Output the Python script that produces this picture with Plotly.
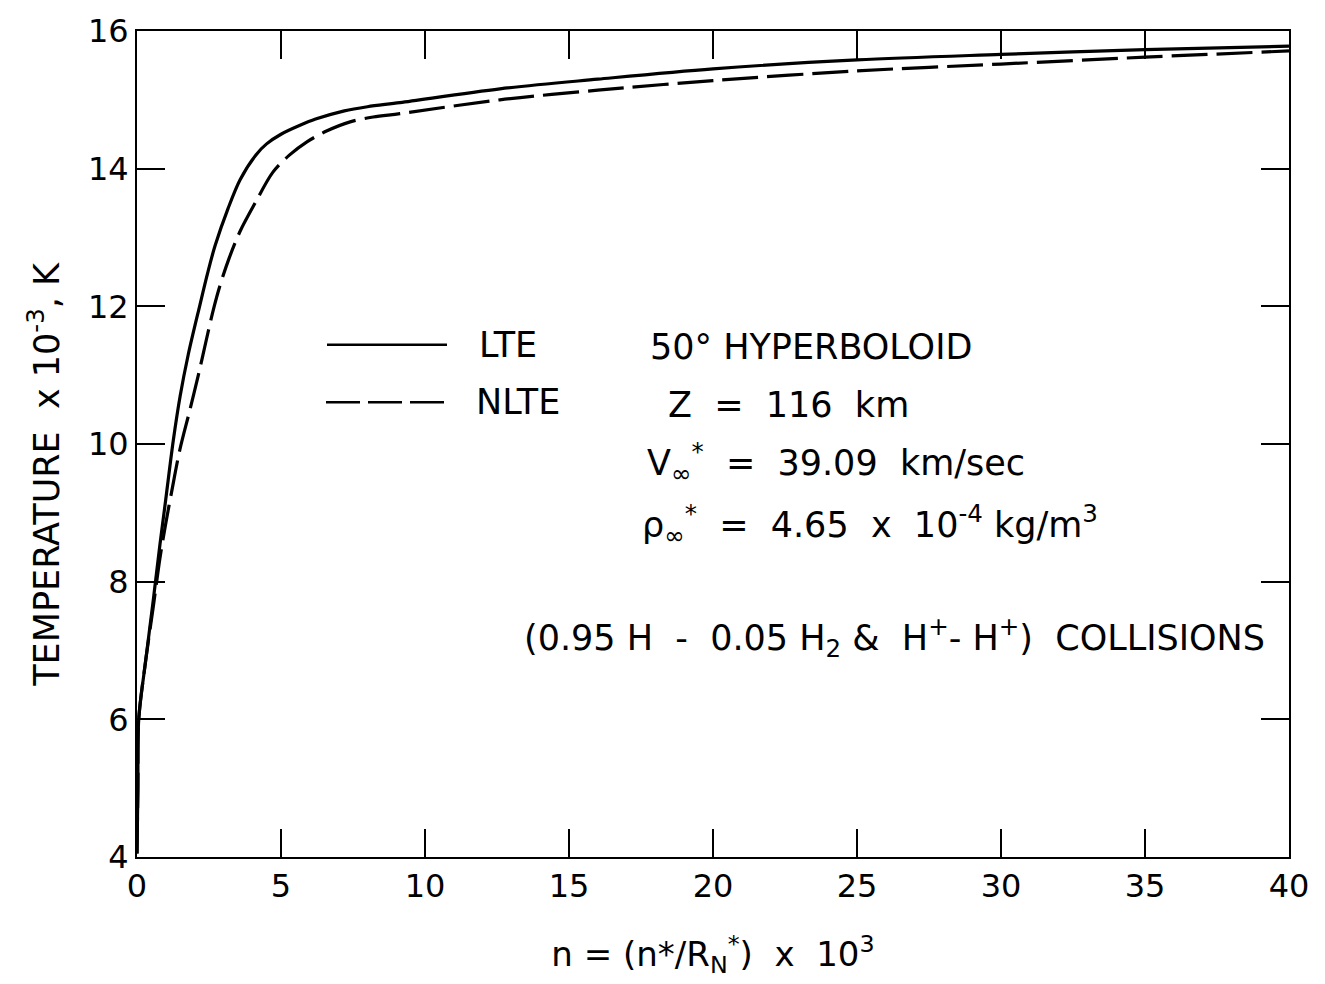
import plotly.graph_objects as go

# ---- data ----
lte_x = [0, 0.03, 0.06, 0.3, 0.57, 0.8, 1.0, 1.26, 1.5, 1.78, 2.19, 2.45, 2.71, 3.16,
         3.58, 4.13, 4.5, 5.0, 5.66, 6.2, 7.2, 8.0, 9.13, 12.6, 16, 20, 25, 30, 35, 40]
lte_t = [4.05, 5.0, 6.0, 6.85, 7.75, 8.55, 9.2, 10.05, 10.7, 11.3, 12.03, 12.48, 12.88, 13.42,
         13.84, 14.2, 14.36, 14.5, 14.63, 14.72, 14.84, 14.9, 14.96, 15.16, 15.3, 15.45, 15.58,
         15.66, 15.73, 15.78]

nlte_x = [0, 0.03, 0.06, 0.3, 0.57, 0.8, 1.0, 1.2, 1.49, 1.84, 2.13, 2.4, 2.65,
          2.88, 3.2, 3.58, 4.1, 4.72, 5.3, 5.9, 6.6, 7.4, 8.2, 9.13, 12.6, 16, 20, 25,
          30, 35, 40]
nlte_t = [4.05, 5.0, 6.0, 6.85, 7.65, 8.35, 8.85, 9.3, 9.92, 10.5, 11.0, 11.5,
          11.95, 12.3, 12.7, 13.09, 13.5, 13.95, 14.2, 14.39, 14.55, 14.68, 14.75, 14.8,
          15.0, 15.14, 15.28, 15.42, 15.52, 15.62, 15.71]

x_ticks = [0, 5, 10, 15, 20, 25, 30, 35, 40]
y_ticks = [4, 6, 8, 10, 12, 14, 16]

FONT = "DejaVu Sans"

fig = go.Figure()
fig.add_trace(go.Scatter(x=lte_x, y=lte_t, mode="lines", name="LTE",
                         line=dict(color="black", width=3.2, shape="spline", smoothing=0.9)))
fig.add_trace(go.Scatter(x=nlte_x, y=nlte_t, mode="lines", name="NLTE",
                         line=dict(color="black", width=3.2, dash="36px,9px",
                                   shape="spline", smoothing=0.9)))

axis_common = dict(showline=True, linecolor="black", linewidth=2, mirror="ticks",
                   ticks="inside", ticklen=28, tickwidth=2, tickcolor="black",
                   showgrid=False, zeroline=False,
                   tickfont=dict(family=FONT, size=32, color="black"))

fig.update_xaxes(range=[0, 40], tickvals=x_ticks, ticktext=[str(v) for v in x_ticks],
                 title=dict(text="n = (n*/R<sub>N</sub><sup>*</sup>)  x  10<sup>3</sup>",
                            font=dict(family=FONT, size=34, color="black"), standoff=38),
                 **axis_common)
fig.update_yaxes(range=[4, 16], tickvals=y_ticks, ticktext=[str(v) for v in y_ticks],
                 **axis_common)

# legend keys (decoration, paper coordinates)
def px_to_paper_x(px):
    return (px - 137) / (1289 - 137)

def px_to_paper_y(py):
    return (857 - py) / (857 - 25)

shapes = [
    dict(type="line", xref="paper", yref="paper",
         x0=px_to_paper_x(327), x1=px_to_paper_x(447),
         y0=px_to_paper_y(341), y1=px_to_paper_y(341),
         line=dict(color="black", width=2.5)),
    dict(type="line", xref="paper", yref="paper",
         x0=px_to_paper_x(326), x1=px_to_paper_x(447),
         y0=px_to_paper_y(399), y1=px_to_paper_y(399),
         line=dict(color="black", width=2.5, dash="34px,8px")),
]

ann_font = dict(family=FONT, size=35, color="black")
annotations = [
    ("LTE", 477, 341),
    ("NLTE", 474, 399),
    ("50° HYPERBOLOID", 648, 343),
    ("Z  =  116  km", 666, 402),
    ("V<sub>∞</sub><sup>*</sup>  =  39.09  km/sec", 645, 460),
    ("ρ<sub>∞</sub><sup>*</sup>  =  4.65  x  10<sup>-4</sup> kg/m<sup>3</sup>", 640, 522),
    ("(0.95 H  -  0.05 H<sub>2</sub> &  H<sup>+</sup>- H<sup>+</sup>)  COLLISIONS", 522, 636),
]
anns = []
for text, px, py in annotations:
    anns.append(dict(text=text, xref="paper", yref="paper",
                     x=px_to_paper_x(px), y=px_to_paper_y(py),
                     xanchor="left", yanchor="middle", showarrow=False, font=ann_font))

# y-axis title (placed as in the reference, slightly below centre)
anns.append(dict(text="TEMPERATURE  x 10<sup>-3</sup>, K", xref="paper", yref="paper",
                 x=px_to_paper_x(44), y=px_to_paper_y(472),
                 xanchor="center", yanchor="middle", textangle=-90, showarrow=False,
                 font=dict(family=FONT, size=35, color="black")))

fig.update_layout(width=1325, height=984, showlegend=False,
                  margin=dict(l=137, r=36, t=25, b=127),
                  paper_bgcolor="white", plot_bgcolor="white",
                  shapes=shapes, annotations=anns)

fig.write_html("out.html")
